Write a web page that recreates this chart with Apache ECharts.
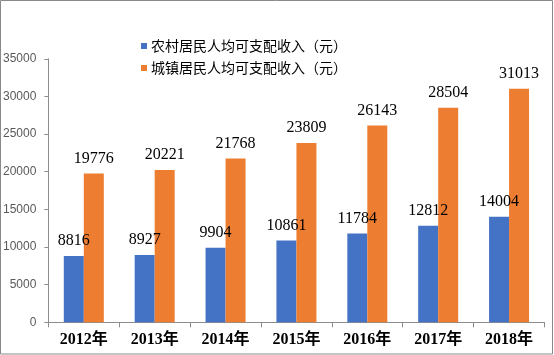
<!DOCTYPE html>
<html>
<head>
<meta charset="utf-8">
<script src="https://cdn.jsdelivr.net/npm/echarts@6/dist/echarts.min.js"></script>
<style>
html,body{margin:0;padding:0;background:#fff;}
#c{width:554px;height:355px;}
</style>
</head>
<body>
<div id="c"></div>
<script>
const categories = ['2012年','2013年','2014年','2015年','2016年','2017年','2018年'];
const ruralIncome = [8816, 8927, 9904, 10861, 11784, 12812, 14004];
const urbanIncome = [19776, 20221, 21768, 23809, 26143, 28504, 31013];
const seriesNames = ['农村居民人均可支配收入（元）', '城镇居民人均可支配收入（元）'];
const yMax = 35000, yInterval = 5000;

const chart = echarts.init(document.getElementById('c'), null, {renderer: 'canvas'});
const labelStyle = {
  show: true, position: 'top', distance: 7,
  fontFamily: 'Liberation Serif, serif', fontSize: 16, color: '#000'
};
chart.setOption({
  animation: false,
  backgroundColor: '#fff',
  graphic: [{
    type: 'rect', shape: {x: 0.5, y: 0.5, width: 552, height: 353.5},
    style: {fill: 'none', stroke: '#898989', lineWidth: 1}, silent: true
  }],
  legend: {
    orient: 'vertical', left: 136, top: 34,
    itemWidth: 6, itemHeight: 6, itemGap: 8,
    icon: 'rect',
    textStyle: {fontFamily: 'Noto Sans CJK SC', fontSize: 14, color: '#000', padding: [0,0,0,-1]},
    data: seriesNames
  },
  grid: {left: 47.7, right: 9.5, top: 58.8, bottom: 32.7, containLabel: false},
  xAxis: {
    type: 'category', data: categories,
    axisLine: {lineStyle: {color: '#8c8c8c', width: 1}},
    axisTick: {show: true, length: 5, lineStyle: {color: '#8c8c8c'}},
    axisLabel: {margin: 10, fontFamily: 'Liberation Serif, Noto Sans CJK SC', fontWeight: 'bold', fontSize: 16, color: '#000'}
  },
  yAxis: {
    type: 'value', min: 0, max: yMax, interval: yInterval,
    axisLine: {show: true, lineStyle: {color: '#8c8c8c', width: 1}},
    axisTick: {show: true, length: 4, lineStyle: {color: '#8c8c8c'}},
    splitLine: {show: false},
    axisLabel: {margin: 12, fontFamily: 'Liberation Sans, Arial', fontSize: 12, color: '#595959',
      formatter: function (v) { return String(v); }}
  },
  series: [
    {name: seriesNames[0], type: 'bar', data: ruralIncome, barWidth: 20, barGap: '0%',
     itemStyle: {color: '#4472C4'}, label: labelStyle},
    {name: seriesNames[1], type: 'bar', data: urbanIncome, barWidth: 20, barGap: '0%',
     itemStyle: {color: '#ED7D31'}, label: labelStyle}
  ]
});
</script>
</body>
</html>
